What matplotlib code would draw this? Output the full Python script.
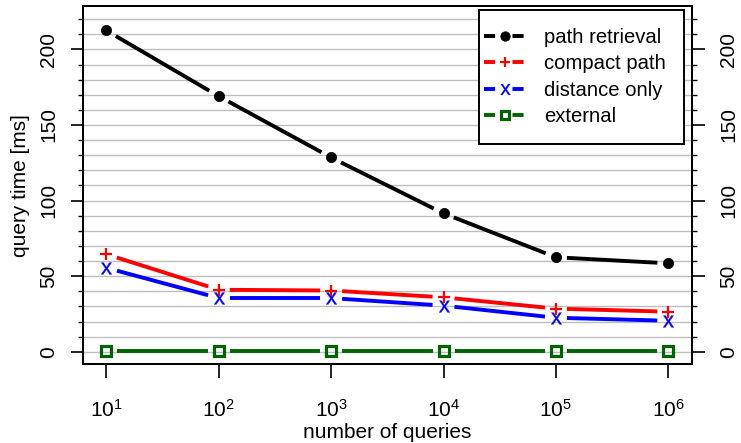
import numpy as np
import matplotlib
matplotlib.use("Agg")
import matplotlib.pyplot as plt
from matplotlib.lines import Line2D
from matplotlib.legend_handler import HandlerLine2D
from matplotlib.ticker import FixedLocator, MultipleLocator, NullLocator

plt.rcParams['font.family'] = ['Liberation Sans', 'DejaVu Sans']
plt.rcParams['mathtext.fontset'] = 'custom'
plt.rcParams['mathtext.rm'] = 'Liberation Sans'
plt.rcParams['mathtext.it'] = 'Liberation Sans'
plt.rcParams['lines.scale_dashes'] = False

queries = [1e1, 1e2, 1e3, 1e4, 1e5, 1e6]
xtick_labels = [r'$10^{1}$', r'$10^{2}$', r'$10^{3}$', r'$10^{4}$', r'$10^{5}$', r'$10^{6}$']
ytick_values = [0, 50, 100, 150, 200]
ytick_labels = ['0', '50', '100', '150', '200']
path_retrieval = [212.5, 169.0, 128.5, 91.5, 62.5, 58.5]
compact_path = [64.5, 41.0, 40.5, 36.0, 28.5, 26.5]
distance_only = [55.5, 35.5, 35.5, 30.5, 22.5, 20.5]
external = [0.5, 0.5, 0.5, 0.5, 0.5, 0.5]
series_names = ['path retrieval', 'compact path', 'distance only', 'external']

FS = 15
LFS = 14.6
W, H = 741, 443
fig = plt.figure(figsize=(W / 100, H / 100), dpi=100)
L_, R_, B_, T_ = 83.3, 691.7, 364.3, 6.0
ax = fig.add_axes([L_ / W, 1 - B_ / H, (R_ - L_) / W, (B_ - T_) / H])
ax.set_xscale('log')
ax.set_xlim(10 ** 0.795, 10 ** 6.208)
ax.set_ylim(-8.3, 228.7)

# grid
for g in range(0, 230, 10):
    ax.axhline(g, color='#bebebe', lw=1.0, zorder=0)

styles = [
    dict(color='black', marker='o', ms=7.4, mfc='black', mew=0.5),
    dict(color='#ff0000', marker='+', ms=8.6, mew=1.6),
    dict(color='#0000ff', marker=r'$\mathrm{x}$', ms=8.5, mew=0.2),
    dict(color='#006400', marker='s', ms=6.8, mfc='none', mew=2.3),
]
data = [path_retrieval, compact_path, distance_only, external]

gap = 11.0  # pixels
inv = ax.transData.inverted()
for vals, st in zip(data, styles):
    pts = ax.transData.transform(np.column_stack([queries, vals]))
    for i in range(len(pts) - 1):
        p0, p1 = pts[i], pts[i + 1]
        d = p1 - p0
        u = d / np.hypot(*d)
        seg = inv.transform(np.vstack([p0 + u * gap, p1 - u * gap]))
        ax.plot(seg[:, 0], seg[:, 1], color=st['color'], lw=2.8,
                solid_capstyle='butt', zorder=3)
    ax.plot(queries, vals, linestyle='none', zorder=4, **st)

# x ticks
ax.xaxis.set_major_locator(FixedLocator(queries))
ax.xaxis.set_minor_locator(NullLocator())
ax.set_xticks(queries)
ax.set_xticklabels(xtick_labels)
ax.tick_params(axis='x', which='major', direction='out', length=10, width=1.2,
               labelsize=FS, pad=15)

# y ticks left
ax.set_yticks(ytick_values)
ax.set_yticklabels(ytick_labels)
ax.yaxis.set_minor_locator(MultipleLocator(10))
ax.tick_params(axis='y', which='major', direction='out', length=9, width=1.2,
               labelsize=FS, pad=9, labelrotation=90)
ax.tick_params(axis='y', which='minor', direction='out', length=3.6, width=1.0)
for lab in ax.get_yticklabels():
    lab.set_va('center')

# y ticks right
ax2 = ax.twinx()
ax2.set_ylim(ax.get_ylim())
ax2.set_yticks(ytick_values)
ax2.set_yticklabels(ytick_labels)
ax2.yaxis.set_minor_locator(MultipleLocator(10))
ax2.tick_params(axis='y', which='major', direction='out', length=9, width=1.2,
                labelsize=FS, pad=11, labelrotation=90)
ax2.tick_params(axis='y', which='minor', direction='out', length=3.6, width=1.0)
for lab in ax2.get_yticklabels():
    lab.set_va('center')

for a in (ax, ax2):
    for s in a.spines.values():
        s.set_linewidth(1.4)

ax.set_xlabel('number of queries', fontsize=FS)
ax.xaxis.set_label_coords(0.5, -0.163)
ax.set_ylabel('query time [ms]', fontsize=FS)
ax.yaxis.set_label_coords(-0.088, 0.5)

handles = []
for st, name in zip(styles, series_names):
    handles.append(Line2D([0], [0], color=st['color'], lw=2.8,
                          dashes=(8, 12.5), dash_capstyle='butt',
                          marker=st['marker'], ms=st['ms'] * 0.92,
                          mfc=st.get('mfc', st['color']), mew=st['mew'],
                          label=name))
leg = ax2.legend(handles=handles, loc='upper right', bbox_to_anchor=(0.9875, 0.9888),
                 fontsize=LFS, frameon=True, fancybox=False, framealpha=1,
                 edgecolor='black', handlelength=1.38, handletextpad=0.94,
                 labelspacing=0.37, borderpad=0.88, borderaxespad=0,
                 handler_map={Line2D: HandlerLine2D(xpad=-0.635)})
leg.get_frame().set_linewidth(1.4)

fig.savefig('out.png', dpi=100)
